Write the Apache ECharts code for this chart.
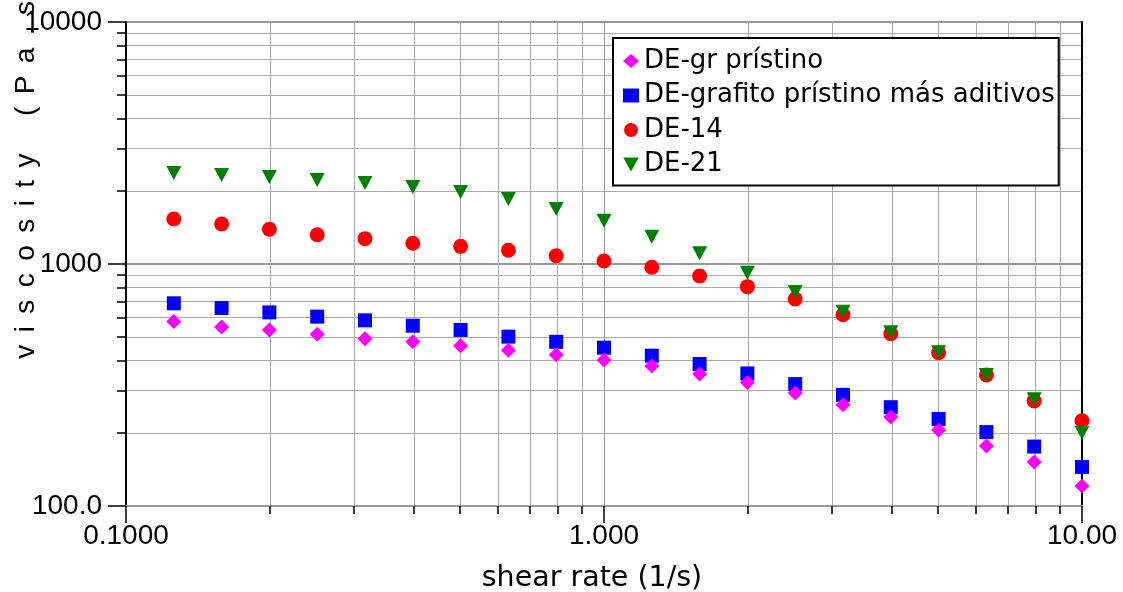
<!DOCTYPE html>
<html>
<head>
<meta charset="utf-8">
<script src="https://cdn.jsdelivr.net/npm/echarts@6/dist/echarts.min.js"></script>
<style>
html,body{margin:0;padding:0;background:#fff;}
#chart{width:1123px;height:592px;}
</style>
</head>
<body>
<div id="chart"></div>
<script>
// shear rate (1/s)
const shearRate = [0.1259, 0.1585, 0.1995, 0.2512, 0.3162, 0.3981, 0.5012, 0.6310, 0.7943, 1.000,
                   1.259, 1.585, 1.995, 2.512, 3.162, 3.981, 5.012, 6.310, 7.943, 10.00];
// viscosity (Pa.s)
const deGrPristino = [578, 549, 534, 512, 491, 477, 459, 440, 422, 401,
                      379, 351, 324, 293, 262, 233, 206, 177, 152, 121];
const deGrafitoAditivos = [688, 658, 631, 606, 585, 556, 534, 501, 477, 451,
                           418, 386, 353, 319, 288, 256, 229, 202, 176, 145];
const de14 = [1535, 1463, 1391, 1321, 1273, 1218, 1183, 1139, 1082, 1029,
              969, 892, 806, 717, 617, 515, 430, 348, 272, 225];
const de21 = [2377, 2333, 2288, 2223, 2162, 2080, 1984, 1856, 1688, 1510,
              1297, 1107, 920, 766, 635, 522, 432, 348, 276, 201];

const seriesNames = ['DE-gr prístino', 'DE-grafito prístino más aditivos', 'DE-14', 'DE-21'];
const xTickValues = [0.1, 1, 10];
const xTickLabels = ['0.1000', '1.000', '10.00'];
const yTickValues = [100, 1000, 10000];
const yTickLabels = ['100.0', '1000', '10000'];
const xTitle = 'shear rate (1/s)';
const yTitle = 'viscosity (Pa.s)';

const G = ' \u2006';
const yTitleSpaced = 'viscosity'.split('').join(G) + G + G + G + '(Pa.s)'.split('').join(G);

function pair(ys) { return shearRate.map((x, i) => [x, ys[i]]); }
function lbl(values, labels) {
  return function (v) {
    for (let i = 0; i < values.length; i++) {
      if (Math.abs(v - values[i]) / values[i] < 1e-6) return labels[i];
    }
    return '';
  };
}

const chart = echarts.init(document.getElementById('chart'), null, {renderer: 'canvas'});
const LAB = "'Liberation Sans', Arial, sans-serif";
const WIDE = "'DejaVu Sans', sans-serif";
const INV_TRI = 'path://M0,0 L20,0 L10,18 Z';

const option = {
  animation: false,
  backgroundColor: '#ffffff',
  grid: {left: 126, right: 41, top: 22, bottom: 86, containLabel: false, outerBoundsMode: 'none',
         show: true, borderColor: '#999', borderWidth: 1},
  legend: {
    orient: 'vertical',
    left: 613, top: 38,
    padding: [10, 4, 8, 10],
    backgroundColor: '#fff',
    borderColor: '#000', borderWidth: 2, borderRadius: 0,
    itemWidth: 16, itemHeight: 14, itemGap: 8.5,
    itemStyle: {opacity: 1},
    textStyle: {fontFamily: WIDE, fontSize: 26, color: '#000'},
    data: seriesNames
  },
  xAxis: {
    type: 'log', logBase: 10, min: 0.1, max: 10,
    name: xTitle, nameLocation: 'middle', nameGap: 58, nameMoveOverlap: false,
    nameTextStyle: {fontFamily: WIDE, fontSize: 28.5, color: '#000', padding: [0, 24, 0, 0]},
    axisLine: {show: true, lineStyle: {color: '#999', width: 2}},
    axisTick: {show: true, inside: false, length: 17, lineStyle: {color: '#000', width: 1.5}},
    minorTick: {show: true, splitNumber: 9, length: 8, lineStyle: {color: '#000', width: 1.5}},
    axisLabel: {formatter: lbl(xTickValues, xTickLabels), fontFamily: LAB, fontSize: 28, color: '#000', margin: 16, showMinLabel: true, showMaxLabel: true},
    splitLine: {show: true, lineStyle: {color: '#999', width: 1}},
    minorSplitLine: {show: true, lineStyle: {color: '#aaa', width: 1}}
  },
  yAxis: [{
    type: 'log', logBase: 10, min: 100, max: 10000,
    name: yTitleSpaced, nameLocation: 'middle', nameGap: 86, nameRotate: 90, nameMoveOverlap: false,
    nameTextStyle: {fontFamily: LAB, fontSize: 28, color: '#000', padding: [0, 0, 0, 190]},
    axisLine: {show: true, lineStyle: {color: '#000', width: 2}},
    axisTick: {show: true, inside: false, length: 18, lineStyle: {color: '#000', width: 1.5}},
    minorTick: {show: true, splitNumber: 9, length: 9, lineStyle: {color: '#000', width: 1.5}},
    axisLabel: {formatter: lbl(yTickValues, yTickLabels), fontFamily: LAB, fontSize: 28, color: '#000', margin: 24},
    splitLine: {show: true, lineStyle: {color: '#999', width: 2}},
    minorSplitLine: {show: true, lineStyle: {color: '#aaa', width: 1}}
  }, {
    type: 'log', logBase: 10, min: 100, max: 10000, position: 'right',
    axisLine: {show: true, lineStyle: {color: '#000', width: 2}},
    axisTick: {show: false}, axisLabel: {show: false}, splitLine: {show: false}
  }],
  series: [
    {name: seriesNames[0], type: 'scatter', symbol: 'diamond', symbolSize: 15, itemStyle: {color: '#ff00ff', opacity: 1}, data: pair(deGrPristino), z: 5},
    {name: seriesNames[1], type: 'scatter', symbol: 'rect', symbolSize: 14, itemStyle: {color: '#0000ff', opacity: 1}, data: pair(deGrafitoAditivos), z: 4},
    {name: seriesNames[2], type: 'scatter', symbol: 'circle', symbolSize: 15, itemStyle: {color: '#ff0000', opacity: 1}, data: pair(de14), z: 3},
    {name: seriesNames[3], type: 'scatter', symbol: INV_TRI, symbolSize: [15, 14], itemStyle: {color: '#008000', opacity: 1}, data: pair(de21), z: 6}
  ]
};
chart.setOption(option);
</script>
</body>
</html>
